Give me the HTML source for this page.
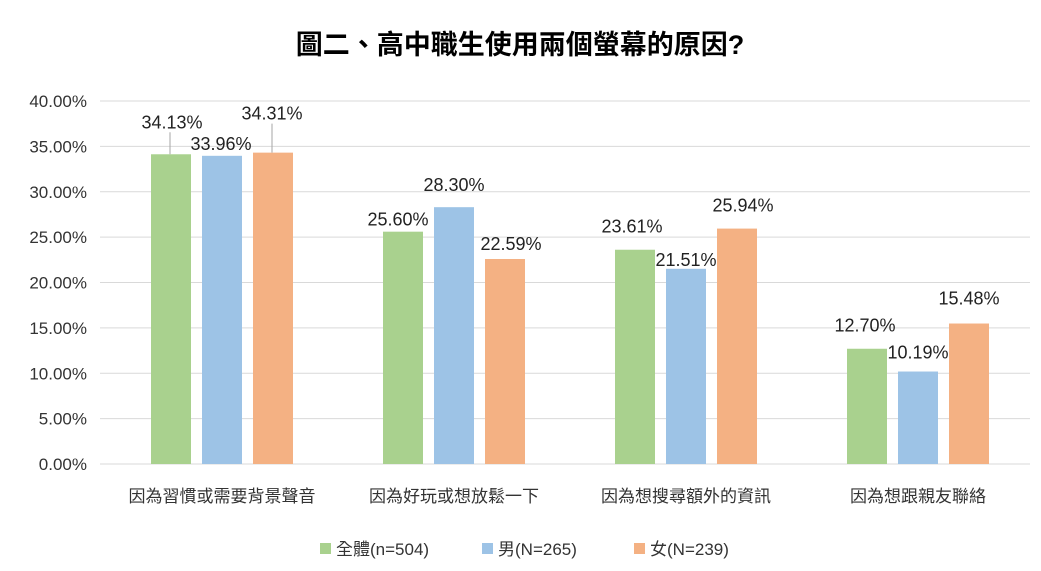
<!DOCTYPE html>
<html><head><meta charset="utf-8"><style>
body{margin:0;background:#fff;}
svg{display:block;font-family:"Liberation Sans","Noto Sans CJK TC",sans-serif;}
</style></head><body>
<svg id="chart" width="1041" height="571">
<text x="520" y="54" text-anchor="middle" font-size="27" font-weight="bold" fill="#000">圖二、高中職生使用兩個螢幕的原因?</text>
<g id="grid"></g><g id="bars"></g><g id="labels"></g><g id="legend"></g>
</svg>
<script>
const categories=["因為習慣或需要背景聲音","因為好玩或想放鬆一下","因為想搜尋額外的資訊","因為想跟親友聯絡"];
const seriesNames=["全體(n=504)","男(N=265)","女(N=239)"];
const total=[34.13,25.60,23.61,12.70];
const male=[33.96,28.30,21.51,10.19];
const female=[34.31,22.59,25.94,15.48];
const yTicks=[0,5,10,15,20,25,30,35,40];
const colors=["#a9d18e","#9dc3e6","#f4b183"];
const series=[total,male,female];
const ns="http://www.w3.org/2000/svg";
const y0=464,pxPer=(464-101)/40,x0=106,groupW=232;
const y=v=>y0-v*pxPer;
const gx=i=>x0+groupW*(i+0.5);
function mk(t,a,p){const e=document.createElementNS(ns,t);for(const k in a)e.setAttribute(k,a[k]);p.appendChild(e);return e;}
const grid=document.getElementById('grid');
yTicks.forEach(t=>{
 const l=mk('line',{x1:100,x2:1030,y1:y(t),y2:y(t),stroke:'#d9d9d9','stroke-width':1},grid);
 
 
 const tx=mk('text',{x:87,y:y(t)+6,'text-anchor':'end','font-size':17,fill:'#333'},grid);
 tx.textContent=t.toFixed(2)+'%';
 
 
});
categories.forEach((c,i)=>{
 const tx=mk('text',{x:gx(i),y:502,'text-anchor':'middle','font-size':17,fill:'#333'},grid);
 tx.textContent=c;
 
 
});
// label offsets (dx,dy) relative to default above-bar position
const offs=[[[1,-16],[-1,4],[-1,-23]],[[-5,4],[0,-6],[6,1]],[[-3,-7],[0,7],[6,-7]],[[-2,-7],[0,-3],[0,-9]]];
const bars=document.getElementById('bars'),labels=document.getElementById('labels');
const bw=40,gap=11;
categories.forEach((c,i)=>{
 series.forEach((s,j)=>{
  const cx=gx(i)+(j-1)*(bw+gap);
  const r=mk('rect',{x:cx-bw/2,y:y(s[i]),width:bw,height:y0-y(s[i]),fill:colors[j]},bars);
  
  
  const o=offs[i][j];
  const lx=cx+o[0],ly=y(s[i])-10+o[1];
  if(i===0&&j!==1){
   const ln=mk('line',{x1:cx-1,x2:cx-1,y1:ly+4,y2:y(s[i]),stroke:'#a6a6a6','stroke-width':1},labels);
   
   
  }
  const t=mk('text',{x:lx,y:ly,'text-anchor':'middle','font-size':18,fill:'#222'},labels);
  t.textContent=s[i].toFixed(2)+'%';
  
  
 });
});
const lg=document.getElementById('legend');
const lx=[320,482,634];
seriesNames.forEach((n,j)=>{
 const r=mk('rect',{x:lx[j],y:543,width:11,height:11,fill:colors[j]},lg);
 
 
 const t=mk('text',{x:lx[j]+16,y:555,'font-size':17,fill:'#333'},lg);
 t.textContent=n;
 
 
});
</script>
</body></html>
